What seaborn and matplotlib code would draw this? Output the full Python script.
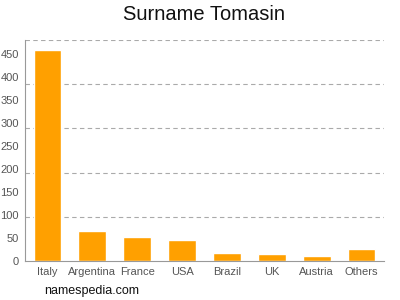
import matplotlib
matplotlib.use("Agg")
import matplotlib.pyplot as plt
import seaborn as sns
import pandas as pd

countries = ["Italy", "Argentina", "France", "USA", "Brazil", "UK", "Austria", "Others"]
counts = [458, 65, 52, 46, 18, 15, 11, 25]
yticks = [0, 50, 100, 150, 200, 250, 300, 350, 400, 450]
gridlines = [96, 192, 288, 384, 480]

sns.set_theme(style="white")
plt.rcParams['font.family'] = ['Liberation Sans', 'DejaVu Sans']

df = pd.DataFrame({"country": countries, "count": counts})
fig = plt.figure(figsize=(4, 3), dpi=100)
ax = fig.add_axes([0.0625, 0.13, 0.8975, 0.7367])
sns.barplot(data=df, x="country", y="count", color="#FFA000", saturation=1, width=0.62, ax=ax)

ax.set_ylim(0, 480)
ax.set_xlim(-0.5, len(countries) - 0.5)
ax.set_yticks(yticks)
for g in gridlines:
    ax.axhline(g, color="#aaaaaa", linestyle=(0, (4, 3)), linewidth=0.8, zorder=0)
ax.set_xlabel("")
ax.set_ylabel("")
for s in ["top", "right"]:
    ax.spines[s].set_visible(False)
for s in ["left", "bottom"]:
    ax.spines[s].set_color("#999999")
    ax.spines[s].set_linewidth(0.8)
ax.tick_params(axis="both", labelsize=8, colors="#555555", length=3, width=0.8, pad=1.5)
ax.tick_params(axis="both", color="#999999")
fig.text(0.51, 0.95, "Surname Tomasin", ha="center", va="center", fontsize=14.5, color="#111111")
fig.text(0.11, 0.03, "namespedia.com", ha="left", va="center", fontsize=9, color="#111111")
fig.savefig("out.png", dpi=100)
